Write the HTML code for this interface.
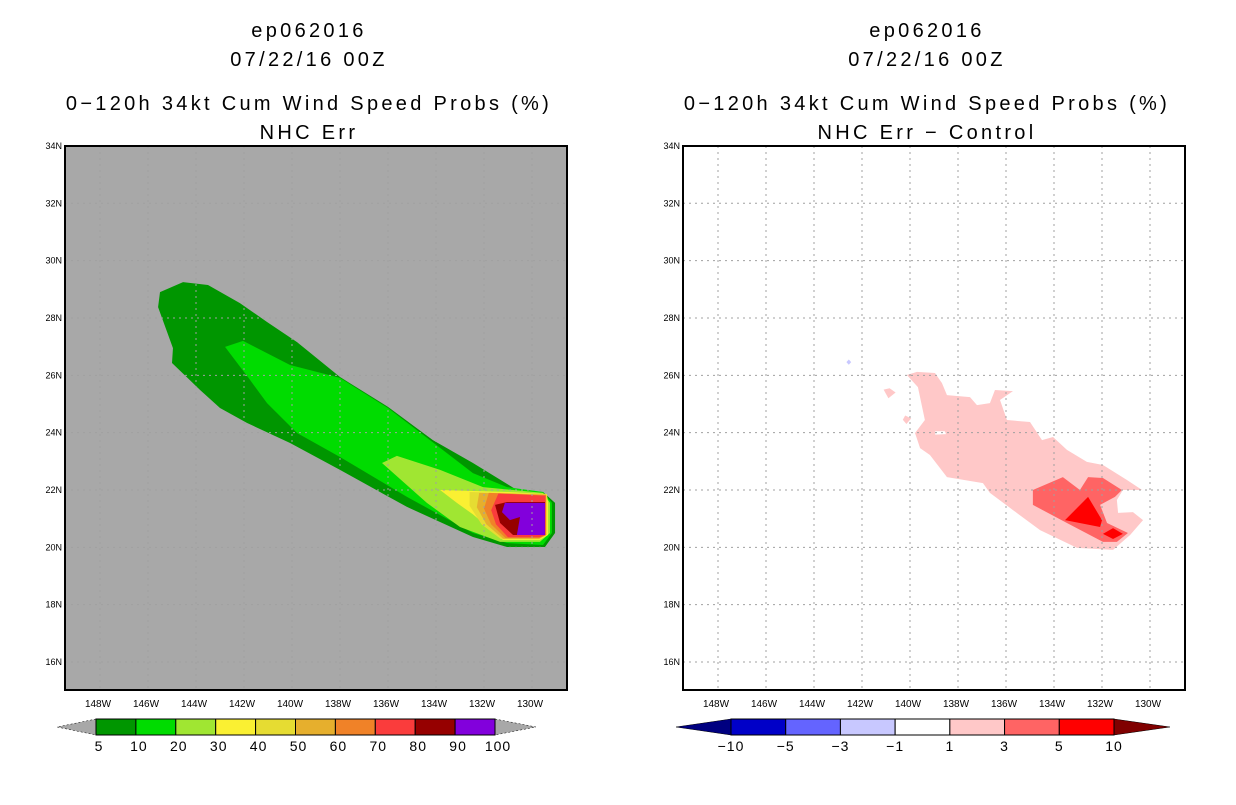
<!DOCTYPE html>
<html><head><meta charset="utf-8"><style>
body{margin:0;background:#fff;width:1236px;height:800px;overflow:hidden;font-family:"Liberation Sans",sans-serif}
</style></head><body>
<svg id="s" width="1236" height="800" xmlns="http://www.w3.org/2000/svg"></svg>
<script>
const latTicks=[16,18,20,22,24,26,28,30,32,34];
const lonTicks=[148,146,144,142,140,138,136,134,132,130];
const leftLevels=[5,10,20,30,40,50,60,70,80,90,100];
const leftColors=["#009600","#00dc00","#a0e632","#faf032","#e6dc32","#e6af2d","#f08228","#fa3c3c","#960000","#8200dc"];
const rightLevels=["−10","−5","−3","−1","1","3","5","10"];
const rightColors=["#0000c8","#6464ff","#c8c8ff","#ffffff","#ffc8c8","#ff6464","#ff0000"];
// contour polygons [lonW, latN]
const c5=[[145.5,28.9],[144.54,29.25],[143.5,29.15],[142.17,28.52],[141.04,27.86],[139.79,27.16],[138,25.94],[136,24.9],[134.13,23.74],[132.46,22.94],[130.63,22],[129.54,21.93],[129.04,21.55],[129.04,20.5],[129.46,20.01],[131.04,20.01],[132.46,20.36],[135.21,21.41],[138,22.7],[140.08,23.64],[141.88,24.34],[143,24.86],[143.83,25.49],[145,26.43],[144.96,26.95],[145.58,28.38]];
const c10=[[142.79,26.99],[142.04,27.2],[140.08,26.36],[138,25.91],[136,24.86],[134.25,23.74],[132.46,22.59],[131.04,22.1],[129.54,21.93],[129.17,21.55],[129.17,20.5],[129.54,20.08],[131.04,20.15],[132.46,20.5],[135.21,21.76],[138,23.15],[139.79,23.99],[141.04,25.03],[141.75,25.84]];
const c20=[[136.25,22.94],[135.63,23.19],[133.83,22.7],[132.04,22.1],[129.54,21.9],[129.25,21.55],[129.25,20.5],[129.67,20.19],[131.33,20.19],[133,20.71],[134.38,21.55]];
const c30=[[133.83,22],[131.04,21.93],[129.38,21.86],[129.33,21.55],[129.33,20.43],[129.67,20.26],[131.21,20.26],[132.46,21.15],[133.13,21.55]];
const c40=[[132.6,21.93],[129.4,21.86],[129.4,20.43],[129.7,20.29],[131.3,20.29],[132.1,20.8],[132.6,21.45]];
const c50=[[132.2,21.9],[129.4,21.84],[129.4,20.43],[129.7,20.3],[131.2,20.3],[131.9,20.8],[132.3,21.4]];
const c60=[[131.8,21.9],[129.42,21.82],[129.42,20.43],[129.7,20.32],[131.1,20.32],[131.7,20.8],[132,21.35]];
const c70=[[131.4,21.88],[129.44,21.8],[129.44,20.43],[129.7,20.35],[131,20.35],[131.5,20.8],[131.7,21.3]];
const c80=[[131.54,21.48],[131.04,21.58],[129.46,21.58],[129.46,20.43],[130.79,20.43],[131.33,20.85]];
const c90=[[131.13,21.55],[129.46,21.55],[129.46,20.43],[130.63,20.43],[130.5,21.06],[130.92,20.95],[131.25,21.23]];
const leftContours=[c5,c10,c20,c30,c40,c50,c60,c70,c80,c90];
const d1=[[140.13,26.01],[139.71,26.12],[138.96,26.08],[138.67,25.73],[138.46,25.31],[137.5,25.24],[137.21,24.96],[136.67,25.03],[136.46,25.49],[135.71,25.45],[136.25,25.14],[135.96,24.44],[135,24.37],[134.5,23.74],[134.04,23.85],[133.46,23.4],[132.63,22.98],[131.96,22.87],[130.96,22.35],[130.33,22],[131.13,22],[131.38,21.65],[131.33,21.2],[130.71,21.23],[130.29,20.95],[130.83,20.43],[131.54,19.91],[133.04,19.98],[134.58,20.6],[135.71,21.3],[136.67,21.9],[136.96,22.24],[138.46,22.45],[139.17,23.22],[139.58,23.46],[139.79,23.99],[139.38,24.44],[139.67,25.59]];
const d1a=[[141.1,25.5],[140.85,25.55],[140.6,25.4],[140.9,25.2]];
const d1b=[[140.2,24.6],[139.95,24.5],[140.15,24.3],[140.3,24.45]];
const d3=[[134.88,22],[133.63,22.45],[132.92,22],[132.58,22.45],[131.96,22.42],[131.17,22],[131.46,21.76],[132.08,21.48],[131.79,20.85],[130.92,20.5],[131.38,20.19],[131.96,20.19],[133.46,20.85],[134.88,21.48]];
const d5a=[[132.58,21.76],[132,20.95],[132.08,20.71],[133.54,20.95]];
const d5b=[[131.96,20.47],[131.54,20.67],[131.13,20.47],[131.54,20.29]];
const dHole=[[138.95,24.05],[138.55,24.05],[138.5,23.95],[138.95,23.93]];
const dNeg=[[142.55,26.55],[142.45,26.46],[142.55,26.37],[142.65,26.46]];

const NS="http://www.w3.org/2000/svg";
const svg=document.getElementById('s');
function el(t,a,p){const e=document.createElementNS(NS,t);for(const k in a)e.setAttribute(k,a[k]);(p||svg).appendChild(e);return e;}
function xS(lon,off){return 196+off+(144-lon)*24;}
function yS(lat){return 490-(lat-22)*28.67;}
function poly(pts,off,fill,name){
  const p=el('polygon',{points:pts.map(q=>xS(q[0],off)+','+yS(q[1])).join(' '),fill:fill});
  
  
}
function panel(off,bg,title2,contours,colors,names){
  const x0=65+off,y0=146,w=502,h=544;
  const r=el('rect',{x:x0,y:y0,width:w,height:h,fill:bg});
  
  
  contours.forEach((c,i)=>poly(c,off,colors[i],names[i]));
  lonTicks.forEach(l=>{const x=xS(l,off);
    const g=el('line',{x1:x,x2:x,y1:y0,y2:y0+h,stroke:'#a0a0a0','stroke-dasharray':'2,4'});
    
    
    const t=el('text',{x:x-2,y:y0+h+17,'font-size':'10','text-anchor':'middle',fill:'#000'});
    t.textContent=l+'W';
    
    
  });
  latTicks.forEach(l=>{const y=yS(l);
    const g=el('line',{x1:x0,x2:x0+w,y1:y,y2:y,stroke:'#a0a0a0','stroke-dasharray':'2,4'});
    
    
    const t=el('text',{x:x0-3,y:y+3,'font-size':'9','text-anchor':'end',fill:'#000'});
    t.textContent=l+'N';
    
    
  });
  const b=el('rect',{x:x0,y:y0,width:w,height:h,fill:'none',stroke:'#000','stroke-width':2});
  
  
  const cx=x0+244;
  [['ep062016',37],['07/22/16 00Z',66],['0−120h 34kt Cum Wind Speed Probs (%)',110],[title2,139]].forEach((s,i)=>{
    const t=el('text',{x:cx,y:s[1],'font-size':'20','text-anchor':'middle',fill:'#000','letter-spacing':'3.3'});
    t.textContent=s[0];
    
    
  });
}
panel(0,'#a8a8a8','NHC Err',leftContours,leftColors,['prob-5','prob-10','prob-20','prob-30','prob-40','prob-50','prob-60','prob-70','prob-80','prob-90']);
panel(618,'#ffffff','NHC Err − Control',[d1,d1a,d1b,d3,d5a,d5b,dHole,dNeg],['#ffc8c8','#ffc8c8','#ffc8c8','#ff6464','#ff0000','#ff0000','#ffffff','#c8c8ff'],['diff-1-3','diff-1-3-islet','diff-1-3-islet2','diff-3-5','diff-5-10','diff-5-10-b','diff-hole','diff-neg']);

// left colorbar
(function(){
  const x0=96,x1=495,y=719,h=16,n=leftColors.length,sw=(x1-x0)/n;
  const lt=el('polygon',{points:`${x0},${y} 57,${y+8} ${x0},${y+h}`,fill:'#a8a8a8',stroke:'#000','stroke-dasharray':'2,2','stroke-width':0.5});
  
  const rt=el('polygon',{points:`${x1},${y} 536,${y+8} ${x1},${y+h}`,fill:'#a8a8a8',stroke:'#000','stroke-dasharray':'2,2','stroke-width':0.5});
  
  leftColors.forEach((c,i)=>{const r=el('rect',{x:x0+i*sw,y:y,width:sw,height:h,fill:c,stroke:'#000','stroke-width':1});
    });
  leftLevels.forEach((v,i)=>{const t=el('text',{x:x0+i*sw+3,y:751,'font-size':'14','text-anchor':'middle','letter-spacing':'1'});t.textContent=v;
    });
})();
// right colorbar
(function(){
  const x0=731,x1=1114,y=719,h=16,n=rightColors.length,sw=(x1-x0)/n;
  const lt=el('polygon',{points:`${x0},${y} 676,${y+8} ${x0},${y+h}`,fill:'#000080',stroke:'#000','stroke-width':0.5});
  
  const rt=el('polygon',{points:`${x1},${y} 1170,${y+8} ${x1},${y+h}`,fill:'#800000',stroke:'#000','stroke-width':0.5});
  
  rightColors.forEach((c,i)=>{const r=el('rect',{x:x0+i*sw,y:y,width:sw,height:h,fill:c,stroke:'#000','stroke-width':1});
    });
  rightLevels.forEach((v,i)=>{const t=el('text',{x:x0+i*sw,y:751,'font-size':'14','text-anchor':'middle','letter-spacing':'1'});t.textContent=v;
    });
})();
</script>
</body></html>
